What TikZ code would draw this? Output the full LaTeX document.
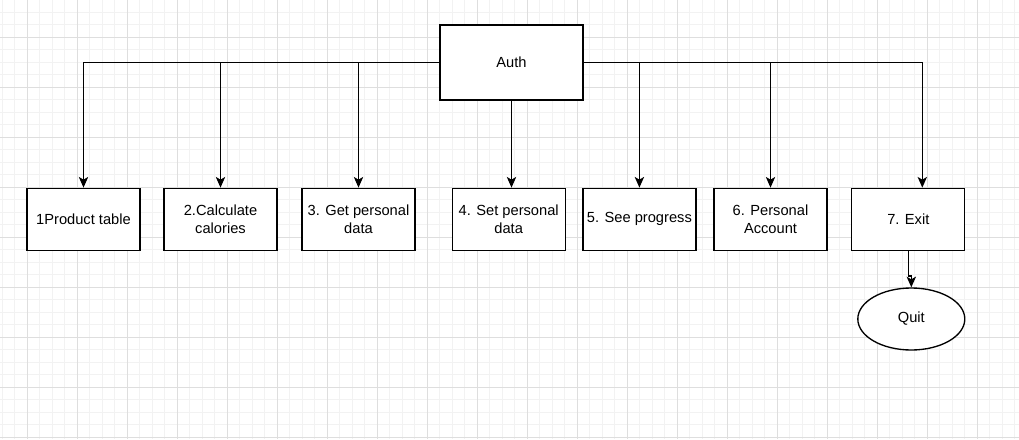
\documentclass[tikz,border=0pt]{standalone}
\usepackage{fontspec}
\setmainfont{Liberation Sans}
\usetikzlibrary{arrows.meta,shapes.geometric}

\begin{document}
\begin{tikzpicture}[x=0.75pt,y=-0.75pt]
        \tikzstyle{every node}=[draw,line width=1pt,fill=white,align=center,font=\fontsize{11}{13.7}\selectfont,inner sep=1pt]
        \tikzstyle{menubox}=[rectangle,minimum width=84.75pt,minimum height=46.5pt]
        \tikzstyle{link}=[line width=1pt,-{Stealth[length=8pt,width=7pt,inset=2pt]}]
        \useasboundingbox (0,0) rectangle (1019,439);
        \fill[white] (0,0) rectangle (1019,439);
        % grid
        \foreach \k in {0,...,81} \draw[black!5] (2+12.5*\k,0) -- (2+12.5*\k,439);
        \foreach \k in {0,...,35} \draw[black!5] (0,-0.5+12.5*\k) -- (1019,-0.5+12.5*\k);
        \foreach \k in {0,...,19} \draw[black!13] (27+50*\k,0) -- (27+50*\k,439);
        \foreach \k in {0,...,8} \draw[black!13] (0,37+50*\k) -- (1019,37+50*\k);
        % nodes
        \node[menubox,minimum width=107.25pt,minimum height=56.25pt] (auth) at (511.5,62.5) {Auth};
        \node[menubox] (prod) at (83.5,219.3) {1Product table};
        \node[menubox] (calc) at (220.5,219.3) {2.Calculate\\calories};
        \node[menubox] (getdata) at (358.5,219.3) {3. Get personal\\data};
        \node[menubox] (setdata) at (508.7,219.3) {4. Set personal\\data};
        \node[menubox] (progress) at (639.4,219.3) {5. See progress};
        \node[menubox] (account) at (770.5,219.3) {6. Personal\\Account};
        \node[menubox] (exit) at (908.3,219.3) {7. Exit};
        \node[ellipse,minimum width=80.25pt,minimum height=46.5pt,inner sep=0pt] (quit) at (911.3,319) {Quit};
        % links
        \draw[link] (auth.west) -| (prod.north);
        \draw[link] (auth.west) -| (calc.north);
        \draw[link] (auth.west) -| (getdata.north);
        \draw[link] (auth.south) -- (auth.south |- setdata.north);
        \draw[link] (auth.east) -| (progress.north);
        \draw[link] (auth.east) -| (account.north);
        \draw[link] (auth.east) -| ([xshift=10.5pt]exit.north);
        \draw[link] (exit.south) -- ++(0,25) -| (quit.north);
    \end{tikzpicture}
\end{document}
